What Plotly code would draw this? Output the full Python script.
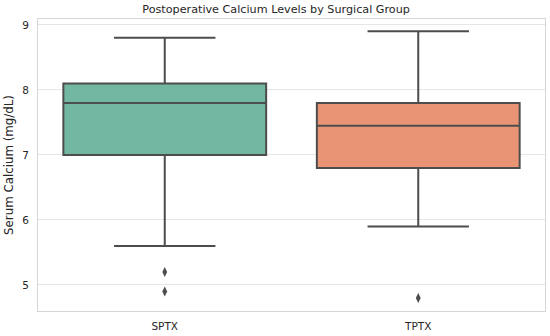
import plotly.graph_objects as go

groups = ["SPTX", "TPTX"]
q1 = [7.0, 6.8]
median = [7.8, 7.45]
q3 = [8.1, 7.8]
lower = [5.6, 5.9]
upper = [8.8, 8.9]
outlier_groups = ["SPTX", "SPTX", "TPTX"]
outlier_values = [5.2, 4.9, 4.8]
colors = ["#72b7a1", "#e99575"]
line_col = "#4d4d4d"

fig = go.Figure()
for i, g in enumerate(groups):
    fig.add_trace(go.Box(
        x=[g], q1=[q1[i]], median=[median[i]], q3=[q3[i]],
        lowerfence=[lower[i]], upperfence=[upper[i]],
        fillcolor=colors[i], line=dict(color=line_col, width=2),
        whiskerwidth=0.5, width=0.8, boxpoints=False, showlegend=False,
        hoverinfo="skip",
    ))
fig.add_trace(go.Scatter(
    x=outlier_groups, y=outlier_values, mode="markers",
    marker=dict(symbol="diamond-tall", size=7, color=line_col),
    showlegend=False,
))

fig.update_layout(
    width=550, height=336,
    margin=dict(l=38, r=5, t=19, b=25, autoexpand=False),
    paper_bgcolor="white", plot_bgcolor="white",
    font=dict(family="DejaVu Sans", color="#262626", size=11),
    title=dict(text="Postoperative Calcium Levels by Surgical Group",
               x=0.502, xanchor="center", y=0.973, yanchor="middle",
               font=dict(size=11.2, color="#262626")),
    boxgap=0.2,
)
fig.update_xaxes(
    categoryorder="array", categoryarray=groups,
    range=[-0.5, 1.5], showgrid=False, automargin=False,
    showline=True, linecolor="#d6d6d6", linewidth=1, mirror=True,
    ticks="", tickfont=dict(size=10.5), ticklabelstandoff=5,
)
fig.update_yaxes(
    range=[4.6, 9.09], tickvals=[5, 6, 7, 8, 9], automargin=False,
    showgrid=True, gridcolor="#e6e6e6", gridwidth=1, zeroline=False,
    showline=True, linecolor="#d6d6d6", linewidth=1, mirror=True,
    ticks="", tickfont=dict(size=10.5), ticklabelstandoff=6,
    title=dict(text="Serum Calcium (mg/dL)", font=dict(size=11.8), standoff=6),
)
fig.write_html("out.html", config={"displayModeBar": False},
               post_script="document.body.style.margin='0';document.body.style.overflow='hidden';")
